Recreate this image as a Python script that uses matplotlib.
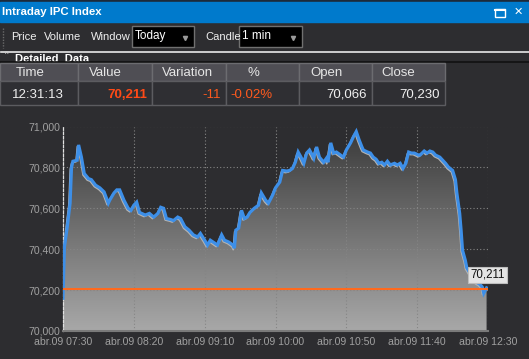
import numpy as np
import matplotlib
matplotlib.use("Agg")
import matplotlib.pyplot as plt
from matplotlib.patches import Rectangle
from matplotlib.colors import LinearSegmentedColormap
from matplotlib import transforms

plt.rcParams["font.family"] = ["Liberation Sans", "DejaVu Sans"]

BG = "#2d2d30"
BLUE = "#007acc"
ORANGE = "#ff5a1e"

# minutes after 07:30 and the index level
mins = [0, 1, 3, 5, 6, 7, 10, 11, 13, 15, 18, 20, 23, 26, 29, 32, 33, 36, 38, 40,
        43, 46, 48, 50, 52, 54, 58, 61, 64, 67, 69, 71, 73, 76, 78, 81, 83, 86, 89, 92,
        95, 97, 100, 102, 104, 107, 109, 112, 114, 117, 120, 121, 122, 124, 126, 128, 130, 132, 135, 138,
        140, 143, 145, 148, 150, 153, 155, 158, 160, 162, 164, 166, 168, 170, 172, 174, 176, 177, 179, 181,
        184, 186, 187, 189, 191, 193, 196, 198, 200, 203, 205, 207, 209, 211, 212, 215, 217, 219, 221, 223,
        225, 227, 229, 231, 234, 236, 238, 240, 242, 244, 246, 248, 251, 252, 255, 257, 259, 261, 263, 266,
        268, 270, 272, 275, 277, 278, 280, 281, 282, 284, 285, 287, 289, 292, 294, 296, 297, 299]
prices = [70160, 70410, 70510, 70625, 70800, 70830, 70835, 70910, 70850, 70770, 70745, 70740, 70713, 70700, 70680, 70625, 70640, 70675, 70690, 70690,
          70640, 70600, 70590, 70615, 70630, 70580, 70567, 70575, 70557, 70575, 70605, 70600, 70550, 70545, 70540, 70557, 70550, 70510, 70493, 70470,
          70460, 70477, 70444, 70420, 70444, 70430, 70420, 70470, 70444, 70435, 70420, 70405, 70493, 70503, 70590, 70550, 70557, 70580, 70600, 70615,
          70675, 70640, 70625, 70665, 70700, 70728, 70785, 70782, 70785, 70795, 70825, 70875, 70850, 70820, 70870, 70885, 70860, 70845, 70900, 70850,
          70825, 70845, 70825, 70920, 70870, 70875, 70860, 70850, 70885, 70920, 70950, 70975, 70935, 70900, 70885, 70875, 70870, 70850, 70840, 70820,
          70825, 70812, 70830, 70812, 70820, 70812, 70820, 70795, 70820, 70875, 70870, 70870, 70860, 70860, 70880, 70870, 70880, 70875, 70860, 70850,
          70835, 70820, 70802, 70785, 70740, 70675, 70575, 70493, 70395, 70345, 70310, 70287, 70262, 70238, 70230, 70215, 70185, 70211]
last_price = 70211
ref_level = 70205

x_ticks = [0, 50, 100, 150, 200, 250, 300]
x_labels = ["abr.09 07:30", "abr.09 08:20", "abr.09 09:10", "abr.09 10:00",
            "abr.09 10:50", "abr.09 11:40", "abr.09 12:30"]
y_ticks = [70000, 70200, 70400, 70600, 70800, 71000]

cols = ["Time", "Value", "Variation", "%", "Open", "Close"]
row = ["12:31:13", "70,211", "-11", "-0.02%", "70,066", "70,230"]
row_colors = ["#f0f0f0", "#ff4a17", ORANGE, ORANGE, "#f0f0f0", "#f0f0f0"]

fig = plt.figure(figsize=(5.29, 3.59), dpi=100, facecolor=BG)

# ---- window chrome (pixel coordinates) ----
ui = fig.add_axes([0, 0, 1, 1])
ui.set_xlim(0, 529); ui.set_ylim(359, 0); ui.axis("off")

ui.add_patch(Rectangle((0, 0), 529, 1.5, color="#1c2a3a"))
ui.add_patch(Rectangle((0, 1.5), 529, 20.5, color=BLUE))
ui.text(2, 12, "Intraday IPC Index", color="white", fontsize=8.2, fontweight="bold", va="center")
ui.add_patch(Rectangle((495, 8.5), 10, 8, fill=False, ec="white", lw=1))
ui.plot([495, 505], [9.5, 9.5], color="white", lw=1.5)
ui.text(514, 12, "\u2715", color="white", fontsize=8, va="center", family="DejaVu Sans")

# toolbar
ui.plot([3, 3], [28, 48], color="#6a6a6a", lw=1, ls=(0, (1, 1)))
for x, s in [(11, "Price"), (44, "Volume"), (91, "Window"), (205, "Candle")]:
    ui.text(x, 37, s, color="#f0f0f0", fontsize=8, va="center")
for x0, w, s in [(132, 62, "Today"), (239, 63, "1 min")]:
    ui.add_patch(Rectangle((x0, 26), w, 21, fc="black", ec="#707070", lw=1))
    ui.text(x0 + 3, 36, s, color="white", fontsize=8.5, va="center")
    ui.plot([x0 + w - 9], [37.5], marker="v", ms=3, color="#9a9a9a", mec="#9a9a9a")

ui.plot([1, 529], [51.5, 51.5], color="#e8e8e8", lw=1.2)
ui.text(3.5, 57, "\u02c4", color="#d0d0d0", fontsize=8, va="center", family="DejaVu Sans")
ui.text(15, 54, "Detailed  Data", color="white", fontsize=8, fontweight="bold", va="top")
ui.plot([0, 529], [62.3, 62.3], color="#111111", lw=1.2, zorder=3)

# detail table
edges = [0, 78, 152, 226, 299, 372, 445]
hx = [15.5, 89, 161.5, 247, 310, 381.5]
for i, c in enumerate(cols):
    x0, x1 = edges[i], edges[i + 1]
    ui.add_patch(Rectangle((x0, 63), x1 - x0, 18.3, fc="#4f4e54", ec="#6c6c70", lw=1, zorder=4))
    ui.add_patch(Rectangle((x0, 81.3), x1 - x0, 23.7, fc="#2f2f33", ec="#5c5c60", lw=1, zorder=4))
    ui.text(hx[i], 73, c, color="#e6e6e6", fontsize=9.5, va="center", zorder=5)
    if i == 0:
        ui.text(11.5, 94.5, row[i], color=row_colors[i], fontsize=9.5, va="center", zorder=5)
    elif i == 3:
        ui.text(230, 94.5, row[i], color=row_colors[i], fontsize=9.5, va="center", zorder=5)
    else:
        ui.text(x1 - 5, 94.5, row[i], color=row_colors[i], fontsize=9.5, va="center", ha="right",
                fontweight="bold" if i == 1 else "normal", zorder=5)

# ---- price chart ----
ax = fig.add_axes([63 / 529, (359 - 331) / 359, (488 - 63) / 529, (331 - 126.5) / 359])
ax.set_facecolor("none")

t = np.array(mins, dtype=float)
p = np.array(prices, dtype=float)

cmap = LinearSegmentedColormap.from_list("fill", ["#a8a8a8", "#383838"])
grad = np.linspace(0, 1, 256).reshape(-1, 1)
img = ax.imshow(grad, extent=[0, 300, 70000, 71000], aspect="auto", origin="lower",
                cmap=cmap, zorder=1)
poly = ax.fill_between(t, p, 70000, facecolor="none", edgecolor="none")
img.set_clip_path(poly.get_paths()[0], transform=ax.transData)

shadow = transforms.offset_copy(ax.transData, fig=fig, x=-1.2, y=-1.5, units="dots")
ax.plot(t, p, color="#b4b4b4", lw=1.2, transform=shadow, zorder=2.6)
ax.plot(t, p, color="#3d8fe8", lw=2.3, zorder=3, solid_joinstyle="miter")
ax.axhline(ref_level, color="#ff6a1e", lw=1.5, zorder=3.5)

ax.annotate(f"{last_price:,}", xy=(t[-1], last_price), xytext=(1, 13), textcoords="offset pixels",
            ha="center", va="center", fontsize=8.3, color="#111111", annotation_clip=False, zorder=6,
            bbox=dict(boxstyle="square,pad=0.18", fc="#e4e4e4", ec="#bdbdbd", lw=0.8))

ax.set_xlim(0, 300)
ax.set_ylim(70000, 71000)
ax.set_xticks(x_ticks); ax.set_xticklabels(x_labels)
ax.set_yticks(y_ticks); ax.set_yticklabels([f"{v:,}" for v in y_ticks])
ax.tick_params(length=0, colors="#a0a0a0", labelsize=7.6)
ax.tick_params(axis="x", pad=4)
ax.tick_params(axis="y", pad=2)
ax.set_axisbelow("line")
ax.grid(True, color="#858585", lw=0.8, ls=(0, (1, 2)))
for s in ["top", "right"]:
    ax.spines[s].set_visible(False)
ax.spines["left"].set_color("#e0e0e0")
ax.spines["left"].set_linestyle((0, (2, 1.5)))
ax.spines["left"].set_linewidth(0.9)
ax.spines["bottom"].set_color("#7a7a7a")
ax.spines["bottom"].set_linewidth(1.5)

fig.savefig("out.png", dpi=100, facecolor=BG)
